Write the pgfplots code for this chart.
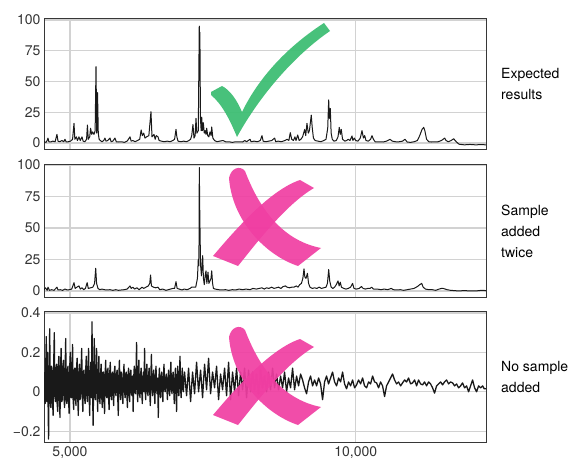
\documentclass[border=0pt]{standalone}
\usepackage{fontspec}
\setmainfont{TeX Gyre Heros}
\usepackage{pgfplots}
\pgfplotsset{compat=1.18}
\definecolor{gridc}{RGB}{210,210,210}
\definecolor{framec}{RGB}{55,55,55}
\definecolor{checkgreen}{RGB}{62,190,116}
\definecolor{xpink}{RGB}{240,62,162}
\pgfplotsset{
  panel/.style={
    scale only axis, width=442pt, anchor=north west,
    xmin=4545, xmax=12280,
    xtick={5000,10000},
    scaled x ticks=false, scaled y ticks=false,
    grid=major,
    major grid style={color=gridc, line width=1.2pt},
    axis line style={framec, line width=1pt},
    tick style={draw=none},
    tick label style={font=\fontsize{14}{16}\selectfont, text=black!80},
    clip=true,
  },
  dataline/.style={black!90, line width=1pt, line join=round, mark=none},
}
\begin{document}
\begin{tikzpicture}[x=1pt,y=1pt]
\useasboundingbox (0,0) rectangle (583,464);

% Panel 1: Expected results
\begin{axis}[panel, at={(44pt,445pt)}, height=131pt,
  ymin=-5.7, ymax=100.8, ytick={0,25,50,75,100}, yticklabels={0,25,50,75,100},
  xticklabels={}]
\addplot[dataline] coordinates {
(4545,1)(4580,0.5)(4600,2)(4615,4)(4630,1)(4660,0.8)(4700,1.5)(4740,1)(4772,7)(4790,1.5)(4820,1)(4860,2)(4890,1)(4912,3)(4935,0.8)(4970,1)(5010,1.5)(5045,3)(5070,16)(5085,3)(5110,5)(5130,2)(5157,5)(5180,2)(5210,5)(5230,1.5)(5260,1)(5290,3)(5305,14.6)(5320,3)(5345,5)(5360,12)(5380,7)(5395,9)(5420,7)(5440,10)(5455,62)(5468,8)(5482,41)(5495,8)(5510,3)(5530,2)(5560,1)(5590,2)(5612,4)(5630,1.5)(5660,2)(5700,4)(5720,1)(5750,1.5)(5787,4)(5810,1)(5850,0.8)(5900,1)(5950,0.5)(6000,1.5)(6050,5)(6070,1.5)(6100,2)(6140,1)(6180,2)(6220,3)(6245,10.6)(6265,6)(6290,8)(6312,4)(6340,5)(6380,6)(6417,25.5)(6435,5)(6470,7)(6490,3)(6510,6)(6540,5)(6560,2)(6600,1.5)(6650,1)(6700,1.5)(6750,1)(6800,2)(6830,3)(6855,11)(6870,5)(6890,1.5)(6940,1)(6990,1.5)(7040,1)(7080,2)(7110,3)(7130,6)(7152,15)(7170,4)(7190,6)(7205,20)(7220,8)(7245,10)(7262,95)(7268,60)(7273,90)(7283,20)(7295,10)(7305,21)(7318,10)(7333,16.5)(7350,8)(7365,10)(7380,7)(7392,12)(7410,6)(7430,5)(7450,9)(7470,6)(7480,13)(7500,4)(7530,2)(7570,1)(7620,1.5)(7677,2)(7720,1)(7780,1)(7840,0.5)(7900,1)(7960,1)(8020,0.8)(8060,2)(8090,1)(8150,3)(8170,1)(8220,1.5)(8280,1)(8330,2)(8360,6)(8380,1.5)(8420,1)(8480,1.5)(8530,2)(8582,4)(8600,1)(8640,1.5)(8700,1)(8760,2)(8800,3)(8830,2)(8855,8.4)(8880,3)(8910,2)(8937,5)(8955,2)(8985,6.5)(9010,2)(9040,3)(9070,5)(9107,11)(9125,6)(9147,16)(9170,8)(9190,10)(9222,22.7)(9240,12)(9260,4)(9290,2)(9340,1.5)(9390,1)(9440,2)(9480,3)(9510,12)(9527,35)(9540,20)(9555,28)(9570,8)(9590,3)(9620,1.5)(9660,2)(9690,5)(9712,12.7)(9730,7)(9747,11)(9770,3)(9810,1.5)(9840,2)(9870,3)(9900,2)(9935,5.7)(9950,2)(9975,4)(10000,2)(10040,1.5)(10080,4)(10110,10)(10135,4)(10157,6)(10180,2)(10220,1.5)(10260,3)(10285,6)(10310,3)(10340,1)(10420,1)(10480,0.8)(10540,1.5)(10600,3)(10640,1.5)(10700,1)(10760,1)(10820,1.5)(10862,3)(10900,0.8)(10960,0.5)(11020,1)(11080,2)(11120,6)(11160,11)(11190,12.7)(11210,10)(11240,3)(11280,1)(11330,0.8)(11380,1)(11440,1)(11500,2)(11557,4)(11580,2)(11620,1)(11670,2)(11715,3.5)(11740,2)(11770,0.5)(11810,-1)(11900,-1.5)(12000,-1.2)(12100,-1.5)(12200,-1.3)(12280,-1.5)
};
\end{axis}

% Panel 2: Sample added twice
\begin{axis}[panel, at={(44pt,299pt)}, height=132pt,
  ymin=-4.8, ymax=100, ytick={0,25,50,75,100}, yticklabels={0,25,50,75,100},
  xticklabels={}]
\addplot[dataline] coordinates {
(4545,1)(4570,2.5)(4600,0.5)(4615,3)(4640,0.5)(4680,1)(4720,0.5)(4772,3)(4790,0.8)(4830,1)(4870,0.5)(4912,1.5)(4950,0.8)(4990,1)(5030,1.5)(5070,6.6)(5090,2)(5120,3)(5157,4)(5180,1.5)(5210,2.5)(5240,1)(5270,2)(5300,6.6)(5320,2)(5360,2.5)(5400,3)(5430,6)(5450,18)(5465,6)(5490,2)(5520,1)(5560,1.5)(5600,1)(5650,0.8)(5700,1)(5750,0.5)(5800,1)(5850,0.5)(5900,0.8)(5950,1)(6000,1.5)(6050,4)(6070,2)(6100,3)(6130,1.5)(6170,2.5)(6210,1)(6260,3)(6290,2)(6330,3)(6370,4)(6395,6)(6410,12.7)(6425,4)(6460,3)(6500,2.5)(6540,3)(6570,1)(6620,1.5)(6680,0.5)(6720,1)(6760,1.5)(6800,2)(6830,2)(6855,7.4)(6875,2)(6910,1.5)(6960,0.8)(7000,1.5)(7050,1)(7100,2)(7130,3)(7160,3)(7200,3)(7230,10)(7245,25)(7256,20)(7263,98)(7270,66)(7278,40)(7286,20)(7300,12)(7322,28)(7335,10)(7350,5)(7365,12)(7380,16)(7395,6)(7415,15)(7430,6)(7450,8)(7468,10)(7480,16)(7495,6)(7510,2)(7540,1.5)(7600,1)(7650,0.8)(7720,1)(7780,0.5)(7840,1)(7900,0.8)(7960,1.5)(8020,1)(8080,1.5)(8150,1)(8200,2)(8260,1.5)(8310,2)(8360,2.5)(8400,1.5)(8440,2.5)(8480,2)(8530,3)(8570,2)(8610,2.5)(8650,3)(8690,2)(8730,3.5)(8770,4)(8800,3)(8840,2.5)(8880,3)(8920,3)(8960,4)(8990,3)(9020,5)(9050,6)(9075,10)(9095,17.5)(9110,11)(9130,10)(9155,14)(9175,6)(9200,3)(9240,2)(9280,2.5)(9320,2)(9360,3)(9400,2)(9440,2.5)(9480,3)(9505,6)(9527,17)(9545,8)(9570,3)(9600,2)(9630,3)(9660,5)(9690,8)(9710,4)(9730,7)(9750,3)(9790,2)(9830,1.5)(9870,2)(9910,3)(9945,6)(9970,2)(10010,1.5)(10060,2)(10100,3.5)(10130,2)(10170,1.5)(10210,2)(10250,2)(10280,3)(10310,1.5)(10380,1.5)(10440,1)(10500,1.5)(10560,1)(10620,2)(10660,1)(10720,0.8)(10780,1)(10840,0.5)(10900,1)(10960,1.5)(11020,2)(11080,3.5)(11120,5)(11155,6)(11180,3)(11220,1.5)(11280,1)(11340,1)(11400,0.5)(11460,1.5)(11500,2)(11530,2)(11600,1)(11660,0.5)(11720,0.3)(11800,0)(11900,0.3)(12000,0)(12100,0)(12200,0.5)(12280,0.3)
};
\end{axis}

% Panel 3: No sample added
\begin{axis}[panel, at={(44pt,153pt)}, height=132pt,
  ymin=-0.26, ymax=0.41, ytick={-0.2,0,0.2,0.4}, yticklabels={−0.2,0,0.2,0.4},
  xticklabels={{5,000},{10,000}}]
\addplot[dataline, line width=1.3pt] coordinates {
(4545,0.10)(4555,-0.04)(4565,-0.06)(4575,0.12)(4585,0.28)(4595,-0.05)(4605,0.20)(4615,-0.02)(4625,-0.24)(4635,0.10)(4645,0.32)(4655,-0.03)(4665,-0.08)(4675,0.13)(4685,0.12)(4695,-0.05)(4705,-0.12)(4715,0.14)(4725,0.30)(4735,-0.02)(4745,-0.05)(4755,0.12)(4765,0.14)(4775,-0.06)(4785,-0.10)(4795,0.13)(4805,0.18)(4815,-0.04)(4825,-0.13)(4835,0.12)(4845,0.22)(4855,-0.05)(4865,-0.04)(4875,0.13)(4885,0.16)(4895,-0.03)(4905,-0.08)(4915,0.12)(4925,0.27)(4935,-0.04)(4945,-0.06)(4955,0.11)(4965,0.13)(4975,-0.04)(4985,-0.11)(4995,0.12)(5005,0.20)(5015,-0.03)(5025,-0.03)(5035,0.12)(5045,0.24)(5055,-0.04)(5065,-0.09)(5075,0.11)(5085,0.12)(5095,-0.03)(5105,-0.07)(5115,0.12)(5125,0.17)(5135,-0.02)(5145,-0.12)(5155,0.10)(5165,0.14)(5175,-0.04)(5185,-0.02)(5195,0.12)(5205,0.22)(5215,-0.02)(5225,-0.10)(5235,0.10)(5245,0.11)(5255,-0.03)(5265,-0.06)(5275,0.11)(5285,0.18)(5295,-0.02)(5305,-0.05)(5315,0.10)(5325,0.22)(5335,-0.02)(5345,-0.12)(5355,0.10)(5365,0.15)(5375,-0.03)(5385,0.355)(5395,0.00)(5405,-0.17)(5415,0.10)(5425,0.27)(5435,-0.02)(5445,-0.04)(5455,0.11)(5465,0.22)(5475,-0.01)(5485,-0.10)(5495,0.10)(5505,0.18)(5515,-0.02)(5525,-0.06)
(5535,0.09)(5545,0.14)(5555,-0.02)(5565,-0.08)(5575,0.10)(5585,0.10)(5595,-0.03)(5605,-0.11)(5615,0.09)(5625,0.16)(5635,-0.02)(5645,-0.03)(5655,0.10)(5665,0.12)(5675,-0.03)(5685,-0.09)(5695,0.09)(5705,0.15)(5715,-0.01)(5725,-0.04)(5735,0.09)(5745,0.10)(5755,-0.02)(5765,-0.07)(5775,0.10)(5785,0.13)(5795,0.00)(5805,-0.02)(5815,0.09)(5825,0.11)(5835,-0.02)(5845,-0.12)(5855,0.08)(5865,0.16)(5875,0.00)(5885,-0.04)(5895,0.10)(5905,0.09)(5915,-0.01)(5925,-0.06)(5935,0.08)(5945,0.14)(5955,0.00)(5965,-0.03)(5975,0.09)(5985,0.10)(5995,-0.01)(6005,-0.08)(6015,0.08)(6025,0.12)(6035,0.00)(6045,-0.05)(6055,0.09)(6065,0.11)(6075,0.00)(6085,-0.02)(6095,0.08)(6105,-0.10)(6115,0.07)(6125,0.13)(6135,0.00)(6145,-0.01)(6155,0.08)(6165,0.25)(6175,0.01)(6185,-0.05)(6195,0.08)(6205,0.16)(6215,0.00)(6225,-0.03)(6235,0.08)(6245,0.12)(6255,0.01)(6265,-0.06)(6275,0.07)(6285,0.10)(6295,0.00)(6305,0.22)(6315,0.01)(6325,-0.04)(6335,0.08)(6345,0.14)(6355,0.01)(6365,-0.02)(6375,0.08)(6385,0.12)(6395,0.01)(6405,-0.07)(6415,0.07)(6425,0.19)(6435,0.02)(6445,-0.02)(6455,0.08)(6465,0.11)(6475,0.01)(6485,-0.06)(6495,0.07)(6505,0.13)(6515,0.02)(6525,-0.01)(6535,0.07)(6545,-0.13)(6555,0.06)(6565,0.12)(6575,0.02)(6585,-0.03)(6595,0.07)(6605,0.10)(6615,0.01)(6625,-0.05)(6635,0.07)(6645,0.14)(6655,0.02)(6665,0.00)(6675,0.07)(6685,0.09)(6695,0.02)(6705,-0.04)(6715,0.06)(6725,0.11)(6735,0.02)(6745,-0.02)(6755,0.07)(6765,0.15)(6775,0.02)(6785,-0.01)(6795,0.07)(6805,0.10)(6815,0.02)(6825,-0.06)(6835,0.06)(6845,0.12)(6855,0.02)(6865,-0.10)(6875,0.06)(6885,0.13)(6895,0.02)(6905,-0.02)(6915,0.07)(6925,0.18)(6935,0.02)(6945,-0.03)(6955,0.06)(6965,0.12)(6975,0.02)(6985,0.00)(6995,0.07)(7005,0.10)
(7040,-0.02)(7075,0.12)(7110,-0.05)(7145,0.10)(7180,-0.01)(7215,0.15)(7250,0.00)(7285,0.11)(7320,-0.03)(7355,0.14)(7390,0.01)(7425,0.17)(7460,-0.01)(7495,0.10)(7530,0.02)(7565,0.13)(7600,-0.04)(7635,0.09)(7670,0.01)(7705,0.12)(7740,-0.02)(7775,0.15)(7810,-0.04)(7845,0.10)(7880,0.00)(7915,0.12)(7950,-0.02)(7985,0.10)(8020,0.01)(8055,0.12)(8090,-0.03)(8125,0.11)(8160,0.00)(8195,0.10)(8230,0.01)(8265,0.09)(8300,-0.01)(8335,0.11)(8370,0.02)(8405,0.08)(8440,0.00)(8475,0.10)(8510,0.01)(8545,0.12)(8580,0.02)(8615,0.09)(8650,0.01)(8685,0.08)(8720,0.02)(8755,0.10)(8790,0.00)(8825,0.07)(8860,0.02)(8895,0.12)(8930,0.01)(8965,0.08)(9000,0.03)
(9035,0.09)(9070,0.06)(9105,0.02)(9140,-0.01)(9175,0.05)(9210,0.08)(9245,0.03)(9280,0.06)(9315,0.03)(9350,0.07)(9385,0.04)(9420,-0.04)(9455,0.05)(9490,0.08)(9525,0.04)(9560,0.07)(9595,0.10)(9630,0.05)(9665,0.03)(9700,0.07)(9735,0.05)(9770,0.10)(9805,0.04)(9840,0.015)(9875,0.05)(9910,0.03)(9945,0.06)(9980,0.02)(10015,0.035)(10050,0.06)(10085,0.04)(10120,0.07)(10155,0.03)(10190,0.02)(10225,0.05)(10260,0.04)(10295,0.08)(10330,0.05)(10365,0.045)(10400,0.02)(10435,0.05)(10470,0.03)(10505,-0.024)(10540,0.03)(10575,0.05)(10610,0.07)(10645,0.09)(10680,0.06)(10715,0.04)(10750,0.05)(10785,0.03)(10820,0.045)(10855,0.06)(10890,0.05)(10925,0.07)(10960,0.04)(10995,0.045)(11030,0.06)(11065,0.03)(11100,0.06)(11135,0.04)(11170,0.035)(11205,0.05)(11240,0.03)(11275,0.05)(11310,0.04)(11345,0.02)(11380,-0.007)(11415,0.03)(11450,0.04)(11485,0.05)(11520,0.035)(11555,0.05)(11590,0.06)(11625,0.04)(11660,0.05)(11695,0.045)(11730,0.03)(11765,0.04)(11800,0.02)(11835,0.03)(11870,0.045)(11905,0.02)(11940,0.03)(11975,0.00)(12010,0.03)(12045,0.06)(12080,0.02)(12115,0.00)(12150,0.03)(12185,0.02)(12220,0.03)(12250,0.015)(12280,0.015)
};
\end{axis}

% Right-hand labels
\begin{scope}[font=\fontsize{14}{21}\selectfont]
\node[anchor=west, align=left, inner sep=0pt] at (501,379.5) {Expected\\results};
\node[anchor=west, align=left, inner sep=0pt] at (501,233) {Sample\\added\\twice};
\node[anchor=west, align=left, inner sep=0pt] at (501,87.5) {No sample\\added};
\end{scope}

% Annotations (pixel coordinates, y downwards)
\begin{scope}[shift={(0,464)}, yscale=-1]
\fill[checkgreen, opacity=0.95] (211,92) -- (222,86) .. controls (230,90) and (237,100) .. (242,112)
  .. controls (260,75) and (290,45) .. (324,23) -- (330,31)
  .. controls (295,55) and (260,95) .. (237,137)
  .. controls (230,120) and (222,104) .. (211,95) -- cycle;
\foreach \dy in {0,159} {
\begin{scope}[shift={(0,\dy)}]
\fill[xpink, opacity=0.92] (229,178) .. controls (231,168) and (240,165) .. (245,171)
  .. controls (258,205) and (280,240) .. (321,248) -- (298,266)
  .. controls (265,255) and (232,220) .. (229,178) -- cycle;
\fill[xpink, opacity=0.92] (300,180) -- (314,188)
  .. controls (285,205) and (255,245) .. (238,266) -- (213,256)
  .. controls (235,230) and (270,190) .. (300,180) -- cycle;
\end{scope}
}
\end{scope}
\end{tikzpicture}
\end{document}
